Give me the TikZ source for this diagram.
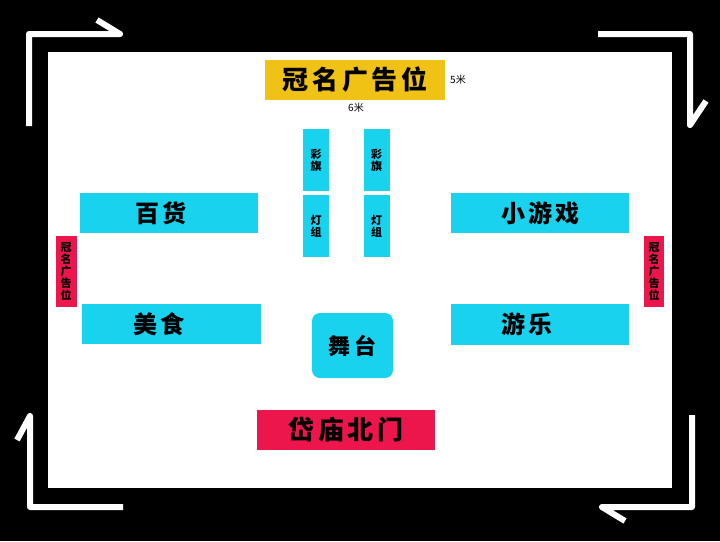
\documentclass[tikz,border=0pt]{standalone}
\usepackage{fontspec}
\usetikzlibrary{positioning}
\newfontfamily\cjk{Noto Sans CJK SC}
\newfontfamily\cjkwide{Noto Sans CJK SC}[LetterSpace=14]
\definecolor{adyellow}{RGB}{240,194,22}
\definecolor{boothcyan}{RGB}{24,210,238}
\definecolor{gatered}{RGB}{236,22,76}
\begin{document}
\begin{tikzpicture}[x=1pt, y=-1pt, booth node/.style={fill=boothcyan,inner sep=0pt,minimum width=178pt,minimum height=40pt,font=\cjkwide\bfseries\fontsize{24}{24}\selectfont},booth text/.style={inner sep=0pt,anchor=west,font=\cjkwide\bfseries\fontsize{24}{24}\selectfont},pole node/.style={fill=boothcyan,inner sep=0pt,minimum width=26pt,minimum height=62pt,align=center,font=\cjk\bfseries\fontsize{11}{12}\selectfont},side node/.style={fill=gatered,inner sep=0pt,minimum width=21pt,minimum height=71pt,align=center,font=\cjk\bfseries\fontsize{11}{12}\selectfont}]%
\useasboundingbox (0,0) rectangle (720,541);
\fill[black] (0,0) rectangle (720,541);
\fill[white] (48,52) rectangle (672,488);
\begin{scope}[draw=white, line width=6pt, line join=round]
\draw (29,126) -- (29,34) -- (120,34) -- (97,20);%top left
\draw (598,34) -- (690,34) -- (690,125) -- (706,101);%top right
\draw (17,440) -- (30,416) -- (30,507) -- (123,507);%bottom left
\draw (692,415) -- (692,507) -- (602,507) -- (625,521);%bottom right
\end{scope}
\begin{scope}
\node[booth node, fill=adyellow, minimum width=180pt, font=\cjkwide\bfseries\fontsize{26}{26}\selectfont] (adtop) at (355,80) {冠名广告位};
\node[font=\cjk\fontsize{10}{10}\selectfont, anchor=west, inner sep=0pt] (width) at (450,80) {5米};
\node[font=\cjk\fontsize{10}{10}\selectfont, inner sep=0pt] (length) at (356,108) {6米};
\node[pole node] (flag1) at (316,160) {彩\\旗};
\node[pole node] (flag2) at (376.5,160) {彩\\旗};
\node[pole node] (lamp1) at (316,226) {灯\\组};
\node[pole node] (lamp2) at (376.5,226) {灯\\组};
\node[booth node] (baihuo) at (169,213) {};
\node[booth node, minimum width=179pt] (meishi) at (171.5,324) {};
\node[booth node] (xiaoyouxi) at (540,213) {};
\node[booth node, minimum height=41pt] (youle) at (540,324.5) {};
\node[booth text, right=55pt of baihuo.west] (baihuo text) {百货};
\node[booth text, right=51pt of meishi.west] (meishi text) {美食};
\node[booth text, right=50pt of xiaoyouxi.west] (xiaoyouxi text) {小游戏};
\node[booth text, right=50pt of youle.west] (youle text) {游乐};
\node[booth node, rounded corners=8pt, minimum width=81pt, minimum height=65pt, font=\cjkwide\bfseries\fontsize{22}{22}\selectfont] (wutai) at (352.5,345.5) {舞台};
\node[booth node, fill=gatered, font=\cjkwide\bfseries\fontsize{26}{26}\selectfont] (gate) at (346,430) {岱庙北门};
\node[side node] (adleft) at (66,271.5) {冠\\名\\广\\告\\位};
\node[side node, minimum width=20pt] (adright) at (654,271.5) {冠\\名\\广\\告\\位};
\end{scope}
\end{tikzpicture}
\end{document}
